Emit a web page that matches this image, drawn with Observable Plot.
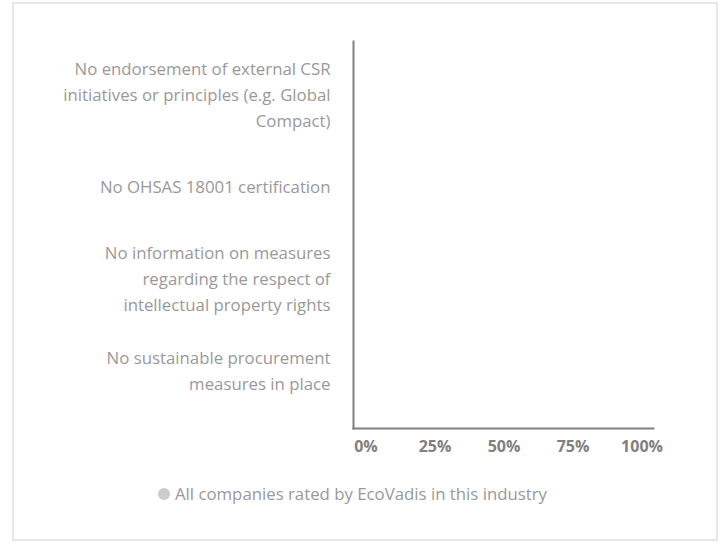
<!DOCTYPE html>
<html>
<head>
<meta charset="utf-8">
<script src="https://cdn.jsdelivr.net/npm/d3@7"></script>
<script src="https://cdn.jsdelivr.net/npm/@observablehq/plot@0.6"></script>
<style>
  html, body { margin: 0; padding: 0; background: #fff; }
  body { width: 727px; height: 547px; position: relative; overflow: hidden; font-family: "Open Sans", sans-serif; }
  #box { position: absolute; left: 12px; top: 2px; width: 706px; height: 539px; border: 2px solid #e6e6e6; box-sizing: border-box; }
  #chart { position: absolute; left: 0; top: 0; }
  #legend { position: absolute; left: 158px; top: 482px; font-size: 16.8px; color: #999; display: flex; align-items: center; white-space: nowrap; }
  #legend .dot { width: 12px; height: 12px; border-radius: 50%; background: #cccccc; margin-right: 5px; }
</style>
</head>
<body>
<div id="box"></div>
<div id="chart"></div>
<div id="legend"><span class="dot"></span><span id="legend-label"></span></div>
<script>
const categories = [
  "No endorsement of external CSR initiatives or principles (e.g. Global Compact)",
  "No OHSAS 18001 certification",
  "No information on measures regarding the respect of intellectual property rights",
  "No sustainable procurement measures in place"
];
const categoryLabels = [
  "No endorsement of external CSR\ninitiatives or principles (e.g. Global\nCompact)",
  "No OHSAS 18001 certification",
  "No information on measures\nregarding the respect of\nintellectual property rights",
  "No sustainable procurement\nmeasures in place"
];
const seriesName = "All companies rated by EcoVadis in this industry";
const seriesValues = [0, 0, 0, 0];
const xTicks = [0, 25, 50, 75, 100];
const xTickLabels = ["0%", "25%", "50%", "75%", "100%"];

const data = categories.map((c, i) => ({category: c, value: seriesValues[i]}));
const labelOf = new Map(categories.map((c, i) => [c, categoryLabels[i]]));
const tickLabelOf = new Map(xTicks.map((t, i) => [t, xTickLabels[i]]));

const chart = Plot.plot({
  width: 727,
  height: 470,
  marginLeft: 353,
  marginRight: 74,
  marginTop: 41,
  marginBottom: 42,
  style: {fontFamily: "'Open Sans', sans-serif", background: "transparent"},
  x: {domain: [0, 100], insetLeft: 12.5, insetRight: 11.5},
  y: {domain: categories, padding: 0.2},
  marks: [
    Plot.barX(data, {x: "value", y: "category", fill: "#cccccc"}),
    Plot.axisY({
      tickSize: 0, tickPadding: 23, label: null, dy: -5,
      tickFormat: d => labelOf.get(d),
      fontSize: 16.8, fill: "#999999", lineHeight: 1.54, lineWidth: 100
    }),
    Plot.axisX({
      ticks: xTicks, tickSize: 0, tickPadding: 12, label: null,
      tickFormat: d => tickLabelOf.get(d),
      fontSize: 16, fontWeight: "bold", fill: "#808080"
    }),
    Plot.frame({anchor: "left", stroke: "#808080", strokeWidth: 2}),
    Plot.frame({anchor: "bottom", stroke: "#808080", strokeWidth: 2})
  ]
});
document.getElementById("chart").appendChild(chart);
document.getElementById("legend-label").textContent = seriesName;
</script>
</body>
</html>
